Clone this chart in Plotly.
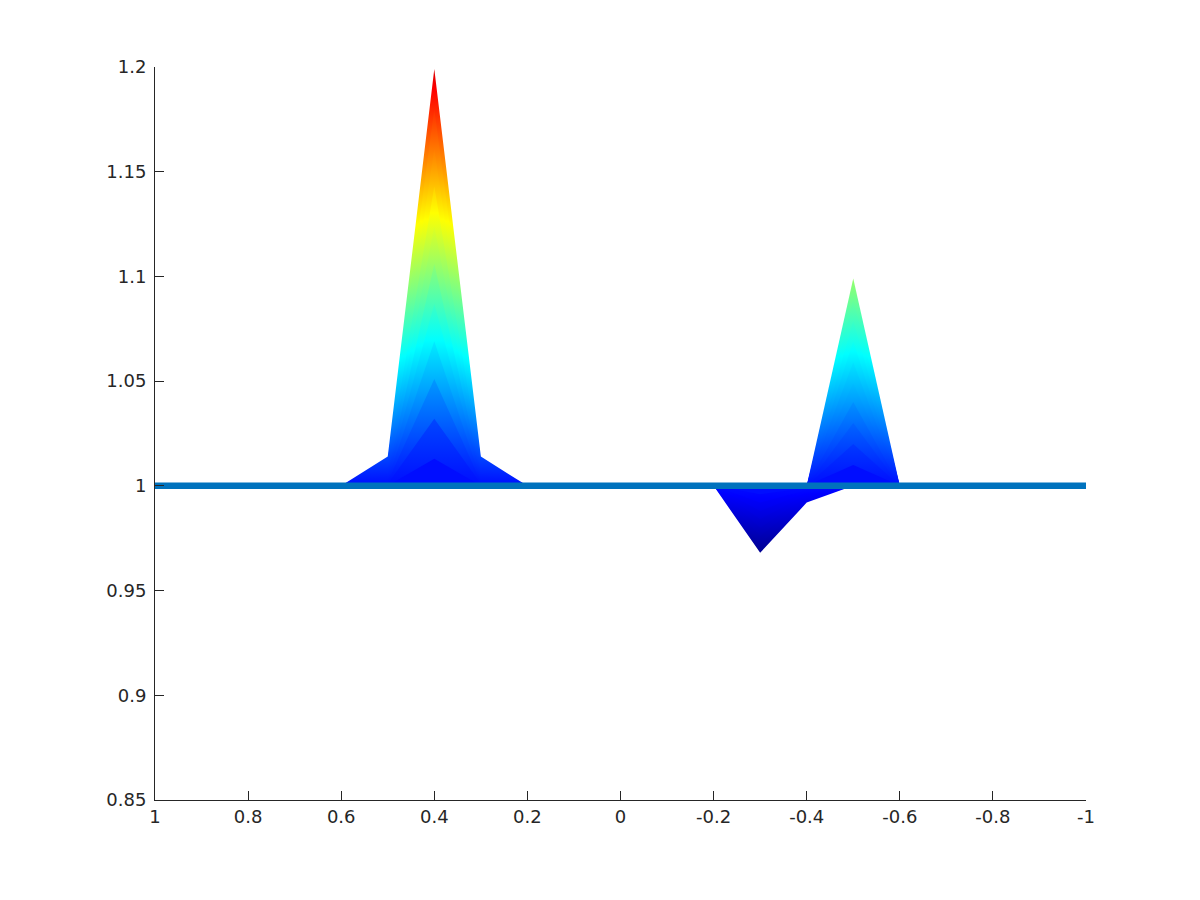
import plotly.graph_objects as go

# x positions of the grid nodes that carry each feature
peak1_x = [0.6, 0.5, 0.4, 0.3, 0.2]
peak2_x = [-0.4, -0.5, -0.6]
dip_x = [-0.2, -0.3, -0.4, -0.5]

# slice heights (front slice first)
peak1_top = [1.013, 1.032, 1.051, 1.069, 1.087, 1.106, 1.124, 1.143, 1.161, 1.180, 1.199]
peak1_side = [1.000, 1.001, 1.002, 1.003, 1.005, 1.006, 1.008, 1.009, 1.011, 1.012, 1.014]
peak2_top = [1.010, 1.020, 1.030, 1.040, 1.049, 1.059, 1.069, 1.079, 1.089, 1.099]
dip_low = [0.996, 0.992, 0.988, 0.984, 0.980, 0.976, 0.972, 0.968]
dip_side = [0.999, 0.998, 0.997, 0.996, 0.995, 0.994, 0.993, 0.992]

line_x = [1, -1]
line_y = [1, 1]

x_ticks = [1, 0.8, 0.6, 0.4, 0.2, 0, -0.2, -0.4, -0.6, -0.8, -1]
x_labels = ["1", "0.8", "0.6", "0.4", "0.2", "0", "-0.2", "-0.4", "-0.6", "-0.8", "-1"]
y_ticks = [0.85, 0.9, 0.95, 1, 1.05, 1.1, 1.15, 1.2]
y_labels = ["0.85", "0.9", "0.95", "1", "1.05", "1.1", "1.15", "1.2"]

# colour limits of the surface (lowest and highest point)
cmin, cmax = 0.968, 1.2

jet_scale = [
    [0.0, "rgb(0,0,128)"],
    [0.125, "rgb(0,0,255)"],
    [0.375, "rgb(0,255,255)"],
    [0.625, "rgb(255,255,0)"],
    [0.875, "rgb(255,0,0)"],
    [1.0, "rgb(128,0,0)"],
]


def jet(v):
    t = min(max((v - cmin) / (cmax - cmin), 0), 1)
    r = min(max(1.5 - abs(4 * t - 3), 0), 1)
    g = min(max(1.5 - abs(4 * t - 2), 0), 1)
    b = min(max(1.5 - abs(4 * t - 1), 0), 1)
    return f"rgb({int(r * 255)},{int(g * 255)},{int(b * 255)})"


def patch(xs, zs, front, back):
    # the visible band of a slice takes the colour of the slice in front of it,
    # so the vertical colour ramp is stretched by (front-1)/(back-1)
    style = dict(x=xs, y=zs, mode="lines", fill="toself", line=dict(width=0),
                 hoverinfo="skip", showlegend=False)
    r = (front - 1) / (back - 1)
    if r <= 0:
        return go.Scatter(fillcolor=jet(1.0), **style)
    return go.Scatter(fillgradient=dict(type="vertical", colorscale=jet_scale,
                                        start=1 + (cmin - 1) / r,
                                        stop=1 + (cmax - 1) / r), **style)


fig = go.Figure()

# dip: deepest slice at the back
for k in reversed(range(len(dip_low))):
    front = dip_low[k - 1] if k > 0 else 1.0
    fig.add_trace(patch(dip_x, [1, dip_low[k], dip_side[k], 1], front, dip_low[k]))

# peaks: tallest slice at the back
for k in reversed(range(len(peak1_top))):
    front = peak1_top[k - 1] if k > 0 else 1.0
    fig.add_trace(patch(peak1_x, [1, peak1_side[k], peak1_top[k], peak1_side[k], 1],
                        front, peak1_top[k]))

for k in reversed(range(len(peak2_top))):
    front = peak2_top[k - 1] if k > 0 else 1.0
    fig.add_trace(patch(peak2_x, [1, peak2_top[k], 1], front, peak2_top[k]))

fig.add_trace(go.Scatter(x=line_x, y=line_y, mode="lines",
                         line=dict(color="#0072BD", width=6.5),
                         hoverinfo="skip", showlegend=False))

axis_style = dict(showgrid=False, zeroline=False, showline=True, linecolor="#262626",
                  linewidth=1, ticks="inside", ticklen=9, tickcolor="#262626",
                  tickfont=dict(family="DejaVu Sans", size=18, color="#262626"))

fig.update_layout(
    width=1200, height=900,
    margin=dict(l=147, r=122, t=59, b=108),
    paper_bgcolor="white", plot_bgcolor="white",
    xaxis=dict(range=[1, -1], tickvals=x_ticks, ticktext=x_labels, **axis_style),
    yaxis=dict(range=[0.85, 1.2], tickvals=y_ticks, ticktext=y_labels,
               ticklabelstandoff=4, **axis_style),
)

fig.write_html("out.html")
